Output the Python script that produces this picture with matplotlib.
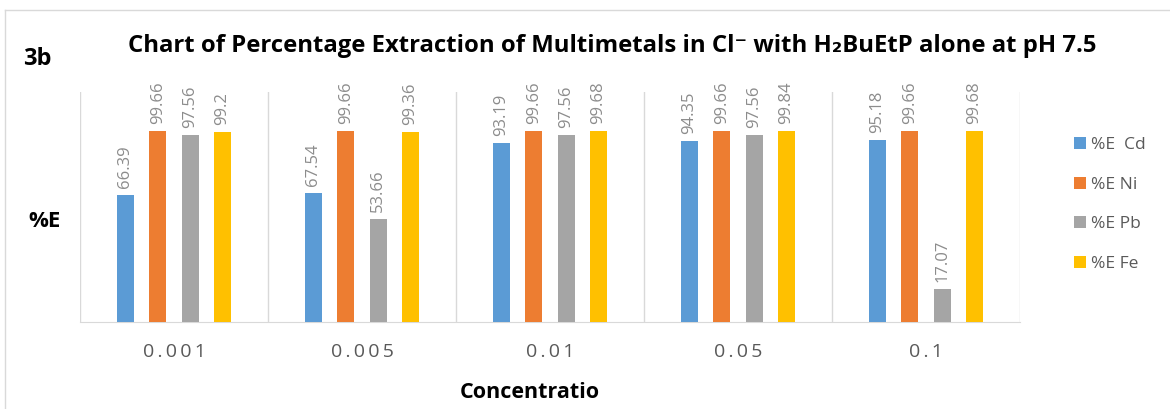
import matplotlib
matplotlib.use("Agg")
import matplotlib.pyplot as plt
import numpy as np
from matplotlib.lines import Line2D

categories = ["0.001", "0.005", "0.01", "0.05", "0.1"]
series_names = ["%E  Cd", "%E Ni", "%E Pb", "%E Fe"]
cd = [66.39, 67.54, 93.19, 94.35, 95.18]
ni = [99.66, 99.66, 99.66, 99.66, 99.66]
pb = [97.56, 53.66, 97.56, 97.56, 17.07]
fe = [99.2, 99.36, 99.68, 99.84, 99.68]
value_labels = [
    ["66.39", "67.54", "93.19", "94.35", "95.18"],
    ["99.66", "99.66", "99.66", "99.66", "99.66"],
    ["97.56", "53.66", "97.56", "97.56", "17.07"],
    ["99.2", "99.36", "99.68", "99.84", "99.68"],
]
colors = ["#5B9BD5", "#ED7D31", "#A5A5A5", "#FFC000"]

plt.rcParams['font.family'] = ['Open Sans', 'DejaVu Sans']

W, H = 1170, 409
fig = plt.figure(figsize=(W / 100, H / 100), dpi=100)

# outer frame
fig.add_artist(Line2D([5 / W, 1.0], [1 - 10 / H, 1 - 10 / H], color="#d9d9d9", lw=1.0,
                      transform=fig.transFigure))
fig.add_artist(Line2D([5 / W, 5 / W], [0, 1 - 10 / H], color="#d9d9d9", lw=1.0,
                      transform=fig.transFigure))

ax = fig.add_axes([80 / W, (H - 322) / H, 940 / W, 230 / H])
x = np.arange(len(categories))
bw = 0.089
step = 0.172
all_series = [cd, ni, pb, fe]
for i, (vals, c, name) in enumerate(zip(all_series, colors, series_names)):
    pos = x + (i - 1.5) * step
    ax.bar(pos, vals, width=bw, color=c, label=name, zorder=3)
    for p, v, lab in zip(pos, vals, value_labels[i]):
        ax.annotate(lab, (p, v), xytext=(0, 5), textcoords="offset points",
                    rotation=90, ha="center", va="bottom", fontsize=12,
                    color="#8c8c8c", annotation_clip=False)

ax.set_xlim(-0.5, len(categories) - 0.5)
ax.set_ylim(0, 120)
for b in np.arange(-0.5, len(categories) + 0.5, 1.0):
    ax.axvline(b, color="#d9d9d9", lw=1.0, zorder=1)
for s in ["top", "right", "left"]:
    ax.spines[s].set_visible(False)
ax.spines["bottom"].set_color("#d9d9d9")
ax.set_yticks([])
ax.set_xticks(x)
ax.set_xticklabels([" ".join(list(c)).replace(" ", "\u2009") for c in categories],
                   fontsize=14, color="#595959")
ax.tick_params(axis="x", length=0, pad=15)

fig.text(612 / W, 1 - 46 / H, "Chart of Percentage Extraction of Multimetals in Cl\u207b with H\u2082BuEtP alone at pH 7.5",
         ha="center", va="center", fontsize=17.2, fontweight="bold", color="black")
fig.text(23 / W, 1 - 59 / H, "3b", ha="left", va="center", fontsize=17, fontweight="bold")
fig.text(28 / W, 1 - 222 / H, "%E", ha="left", va="center", fontsize=16, fontweight="bold")
fig.text(530 / W, 1 - 392 / H, "Concentratio", ha="center", va="center", fontsize=15.5,
         fontweight="bold")

leg = ax.legend(loc="upper left", bbox_to_anchor=(1067 / 940 - 80 / 940, 1.0 - (130 - 92) / 230),
                frameon=False, fontsize=12.5, labelcolor="#595959", handlelength=0.7,
                handleheight=0.7, labelspacing=1.35, handletextpad=0.3, borderaxespad=0)

fig.savefig("out.png", dpi=100)
